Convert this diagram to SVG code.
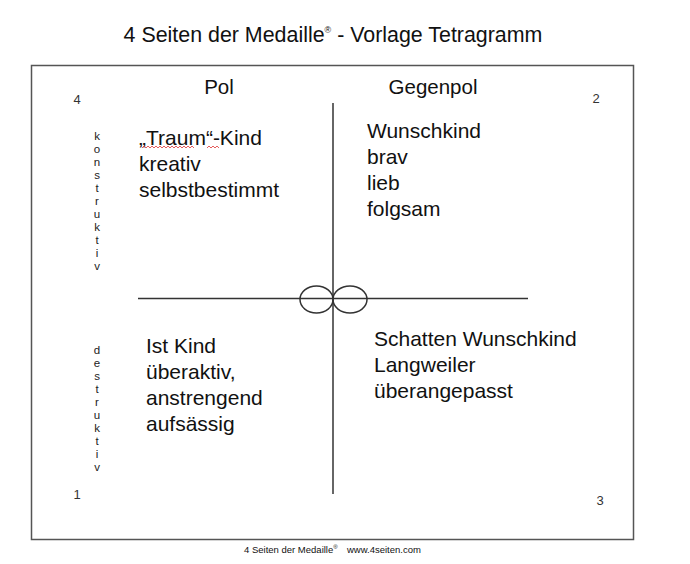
<svg xmlns="http://www.w3.org/2000/svg" width="690" height="564" viewBox="0 0 690 564">
<style>
text{font-family:"Liberation Sans",Arial,sans-serif;fill:#111}
.title{font-size:21.4px}
.head{font-size:20.5px}
.q{font-size:21px}
.num{font-size:13px;fill:#333}
.v{font-size:11.5px;fill:#222}
.foot{font-size:9.5px}
.ln{stroke:#333;stroke-width:1.5;fill:none}
</style>
<rect width="690" height="564" fill="#fff"/>
<text class="title" x="333" y="42" text-anchor="middle">4 Seiten der Medaille<tspan font-size="9" dy="-9">®</tspan><tspan dy="9"> - Vorlage Tetragramm</tspan></text>
<rect x="31.5" y="65.5" width="602" height="474" fill="none" stroke="#555" stroke-width="1.5"/>
<g id="connectors">
<line class="ln" x1="333" y1="103" x2="333" y2="494"/>
<line class="ln" x1="138" y1="298.5" x2="528" y2="298.5"/>
<ellipse class="ln" cx="316.5" cy="299.5" rx="16.5" ry="13.5"/>
<ellipse class="ln" cx="350" cy="299.5" rx="17" ry="13.5"/>
</g>
<g id="headers">
<text class="head" x="219" y="94" text-anchor="middle">Pol</text>
<text class="head" x="433" y="94" text-anchor="middle">Gegenpol</text>
</g>
<g id="numbers">
<text class="num" x="77" y="104" text-anchor="middle">4</text>
<text class="num" x="596" y="103" text-anchor="middle">2</text>
<text class="num" x="77" y="499" text-anchor="middle">1</text>
<text class="num" x="600" y="505" text-anchor="middle">3</text>
</g>
<g id="konstruktiv">
<text class="v" text-anchor="middle"><tspan x="97" y="140">k</tspan><tspan x="97" y="153">o</tspan><tspan x="97" y="166">n</tspan><tspan x="97" y="179">s</tspan><tspan x="97" y="192">t</tspan><tspan x="97" y="205">r</tspan><tspan x="97" y="218">u</tspan><tspan x="97" y="231">k</tspan><tspan x="97" y="244">t</tspan><tspan x="97" y="257">i</tspan><tspan x="97" y="270">v</tspan></text>
</g>
<g id="destruktiv">
<text class="v" text-anchor="middle"><tspan x="97" y="354">d</tspan><tspan x="97" y="367">e</tspan><tspan x="97" y="380">s</tspan><tspan x="97" y="393">t</tspan><tspan x="97" y="406">r</tspan><tspan x="97" y="419">u</tspan><tspan x="97" y="432">k</tspan><tspan x="97" y="445">t</tspan><tspan x="97" y="458">i</tspan><tspan x="97" y="471">v</tspan></text>
</g>
<g id="q4">
<text class="q"><tspan x="139" y="145">„Traum“-Kind</tspan><tspan x="139" y="171">kreativ</tspan><tspan x="139" y="197">selbstbestimmt</tspan></text>
<path d="M142 148 l2 -2 l2 2 l2 -2 l2 2 l2 -2 l2 2 l2 -2 l2 2 l2 -2 l2 2 l2 -2 l2 2 l2 -2 l2 2 l2 -2 l2 2 l2 -2 l2 2 l2 -2 l2 2 l2 -2 l2 2 l2 -2 l2 2 l2 -2 l2 2 M207 148 l2 -2 l2 2 l2 -2 l2 2 l2 -2 l2 2" fill="none" stroke="#d33" stroke-width="0.8"/>
</g>
<g id="q2">
<text class="q"><tspan x="367" y="138">Wunschkind</tspan><tspan x="367" y="164">brav</tspan><tspan x="367" y="190">lieb</tspan><tspan x="367" y="216">folgsam</tspan></text>
</g>
<g id="q1">
<text class="q"><tspan x="146" y="353">Ist Kind</tspan><tspan x="146" y="379">überaktiv,</tspan><tspan x="146" y="405">anstrengend</tspan><tspan x="146" y="431">aufsässig</tspan></text>
</g>
<g id="q3">
<text class="q"><tspan x="374" y="346">Schatten Wunschkind</tspan><tspan x="374" y="372">Langweiler</tspan><tspan x="374" y="398">überangepasst</tspan></text>
</g>
<g id="footer">
<text class="foot" x="244" y="553">4 Seiten der Medaille<tspan font-size="6" dy="-4">®</tspan></text>
<text class="foot" x="347" y="553">www.4seiten.com</text>
</g>
</svg>
